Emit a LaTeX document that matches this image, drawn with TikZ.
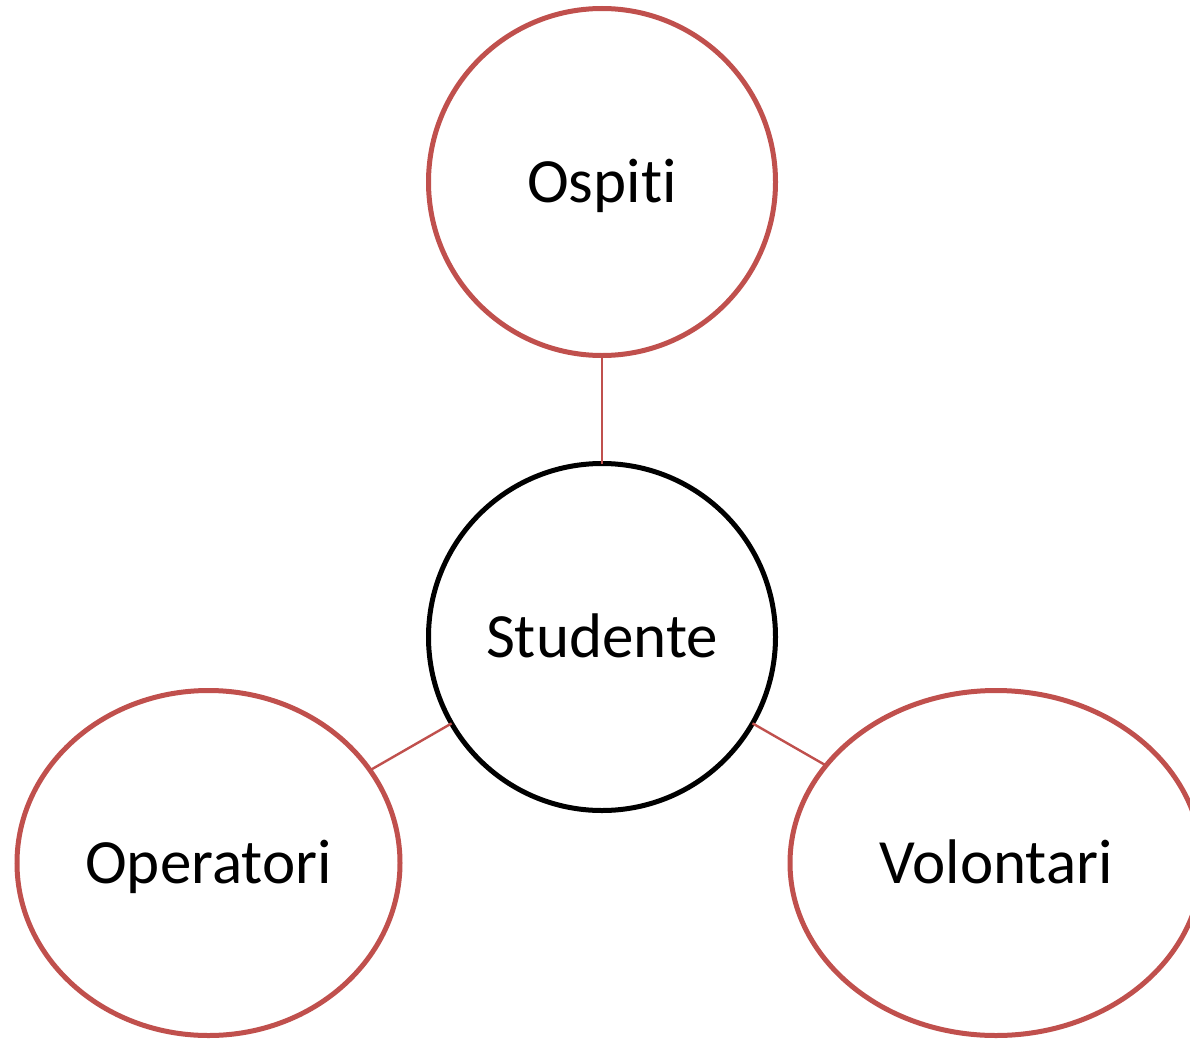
\documentclass[tikz,border=0pt]{standalone}
\usepackage{fontspec}
\setmainfont[Ligatures=NoCommon]{Carlito}
\usetikzlibrary{shapes.geometric}
\definecolor{accred}{HTML}{C0504D}
\tikzset{
  lbl/.style={font=\fontsize{63}{75}\selectfont, text height=40.6pt, text depth=0pt},
  bubble/.style={circle, draw=accred, line width=5pt, minimum size=347pt, inner sep=0pt, outer sep=0pt, fill=white, lbl},
  center/.style={bubble, draw=black},
  oval/.style={ellipse, draw=accred, line width=5pt, minimum height=345pt, inner sep=0pt, outer sep=0pt, fill=white, lbl},
  link/.style={draw=accred, line width=2.4pt}
}
\begin{document}
\begin{tikzpicture}[x=1pt,y=-1pt]
\useasboundingbox (0,0) rectangle (1190,1038);
\clip (0,0) rectangle (1190,1038);
\node[bubble] (osp) at (602,182) {Ospiti};
\node[center] (stu) at (602,637) {Studente};
\node[oval, minimum width=383pt] (ope) at (208.5,863) {Operatori};
\node[oval, minimum width=412pt] (vol) at (996,863) {Volontari};
\draw[link] (osp) -- (stu);
\draw[link] (stu) -- (ope);
\draw[link] (stu) -- (vol);
\end{tikzpicture}
\end{document}
